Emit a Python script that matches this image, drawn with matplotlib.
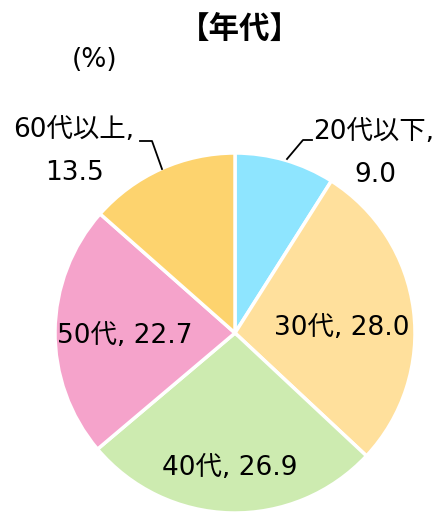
import matplotlib.pyplot as plt

plt.rcParams['font.family'] = ['DejaVu Sans', 'Noto Sans CJK JP']

# データ
categories = ['20代以下', '30代', '40代', '50代', '60代以上']
values = [9.0, 28.0, 26.9, 22.7, 13.5]
colors = ['#8EE5FF', '#FFE09C', '#CDEBB0', '#F5A3CB', '#FDD36E']

W, H = 437, 512
fig = plt.figure(figsize=(W / 100, H / 100), dpi=100)

# 円の中心と半径 (ピクセル)
cx, cy, r = 235, 333, 180
ax = fig.add_axes([(cx - r) / W, (H - cy - r) / H, 2 * r / W, 2 * r / H])
ax.pie(values, colors=colors, startangle=90, counterclock=False,
       wedgeprops=dict(edgecolor='white', linewidth=2.5), radius=1.0)
ax.set_xlim(-1, 1)
ax.set_ylim(-1, 1)
ax.set_aspect('auto')
ax.axis('off')


def px(x, y):
    # ピクセル位置 -> データ座標
    return (x - cx) / r, (cy - y) / r


fs = 19
# 内側のラベル
inner = {1: (342, 328), 2: (230, 468), 3: (125, 336)}
for i, (x, y) in inner.items():
    ax.text(*px(x, y), f"{categories[i]}, {values[i]:.1f}", ha='center', va='center',
            fontsize=fs, clip_on=False)

# 外側のラベル
ax.text(*px(374, 132), f"{categories[0]},", ha='center', va='center', fontsize=fs, clip_on=False)
ax.text(*px(375, 175), f"{values[0]:.1f}", ha='center', va='center', fontsize=fs, clip_on=False)
ax.text(*px(74, 130), f"{categories[4]},", ha='center', va='center', fontsize=fs, clip_on=False)
ax.text(*px(75, 173), f"{values[4]:.1f}", ha='center', va='center', fontsize=fs, clip_on=False)

# 引き出し線
for pts in [[(287, 159), (303, 140), (312, 140)], [(162, 169), (152, 141), (140, 141)]]:
    xs = [px(a, b)[0] for a, b in pts]
    ys = [px(a, b)[1] for a, b in pts]
    ax.plot(xs, ys, color='black', lw=1.3, clip_on=False)

fig.text(240 / W, 1 - 29 / H, '【年代】', ha='center', va='center', fontsize=22,
         fontweight='bold', family=['Noto Sans CJK JP'])
fig.text(95 / W, 1 - 60 / H, '(%)', ha='center', va='center', fontsize=fs)

fig.savefig('out.png', dpi=100)
